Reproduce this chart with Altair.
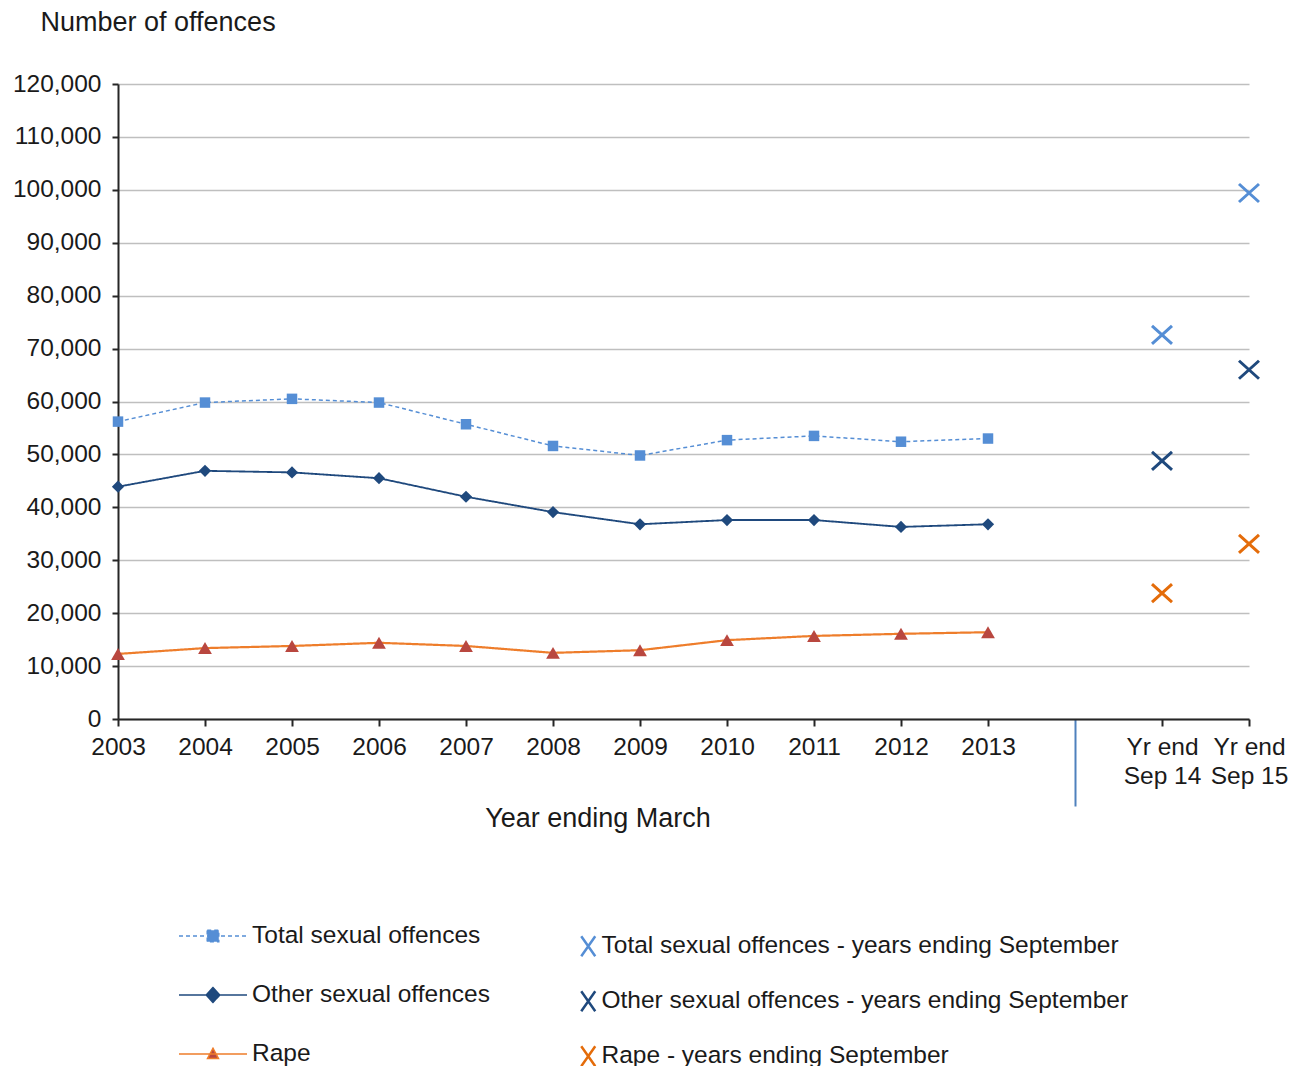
import altair as alt
import pandas as pd

# ---- values ----------------------------------------------------------------
years = ["2003", "2004", "2005", "2006", "2007", "2008", "2009",
         "2010", "2011", "2012", "2013"]
gap_cat = " "
sep_cats = ["Yr end Sep 14", "Yr end Sep 15"]

series_names = ["Total sexual offences", "Other sexual offences", "Rape"]
total = [56200, 59800, 60500, 59800, 55700, 51600, 49800, 52700, 53500, 52400, 53000]
other = [43900, 46900, 46600, 45500, 42000, 39100, 36800, 37600, 37600, 36300, 36800]
rape = [12300, 13400, 13800, 14400, 13800, 12500, 13000, 14900, 15700, 16100, 16400]

sep_names = ["Total sexual offences - years ending September",
             "Other  sexual offences - years ending September",
             "Rape  - years ending  September"]
sep_total = [72600, 99400]
sep_other = [48800, 66000]
sep_rape = [23800, 33100]

y_ticks = list(range(0, 120001, 10000))

# ---- styling ---------------------------------------------------------------
FONT = "Liberation Sans"
TEXT = "#1a1a1a"
line_colors = ["#558ED5", "#1F497D", "#EE7D2B"]
marker_colors = ["#558ED5", "#1F497D", "#B9473F"]
x_colors = ["#558ED5", "#1F497D", "#E46C0A"]
dashes = [[4, 3], [1, 0], [1, 0]]
widths = [1.5, 2.2, 2]
marker_shapes = ["square", "diamond", "triangle-up"]
marker_sizes = [110, 190, 130]
legend_shapes = [
    "M-1,0L1,0M-0.17,-0.17L0.17,-0.17L0.17,0.17L-0.17,0.17Z",
    "M-1,0L1,0M0,-0.22L0.2,0L0,0.22L-0.2,0Z",
    "M-1,0L1,0M0,-0.17L0.16,0.13L-0.16,0.13Z",
]
X_SHAPE = "M-1,-0.9L1,0.9M-1,0.9L1,-0.9"
X_LEGEND_SHAPE = "M-0.7,-1L0.7,1M-0.7,1L0.7,-1"

all_cats = years + [gap_cat] + sep_cats

# ---- tables ----------------------------------------------------------------
lines_df = pd.DataFrame(
    [{"cat": y, "series": s, "value": v}
     for s, vals in zip(series_names, [total, other, rape])
     for y, v in zip(years, vals)]
)
sep_df = pd.DataFrame(
    [{"cat": c, "series": s, "value": v}
     for s, vals in zip(sep_names, [sep_total, sep_other, sep_rape])
     for c, v in zip(sep_cats, vals)]
)

x_enc = alt.X(
    "cat:N",
    sort=all_cats,
    scale=alt.Scale(type="point", domain=all_cats, padding=0),
    axis=alt.Axis(
        title="Year ending March",
        titleFont=FONT, titleFontSize=27, titleFontWeight="normal", titleColor=TEXT,
        titleX=479.5, titleY=99, titleAlign="center", titleBaseline="middle",
        labelExpr="indexof(datum.value, 'Yr end') == 0 ? ['Yr end', replace(datum.value, 'Yr end ', '')] : datum.value",
        labelFont=FONT, labelFontSize=24.5, labelColor=TEXT, labelAngle=0,
        labelPadding=9, labelLineHeight=29, labelOverlap=False, labelFlush=False,
        domainColor="#262626", domainWidth=2,
        tickColor={"condition": {"test": f"datum.value == '{gap_cat}'", "value": "#4F81BD"}, "value": "#262626"},
        tickSize={"condition": {"test": f"datum.value == '{gap_cat}'", "value": 87}, "value": 7},
        tickWidth=2,
        grid=False,
    ),
)

y_enc = alt.Y(
    "value:Q",
    scale=alt.Scale(domain=[0, 120000], nice=False, zero=True),
    axis=alt.Axis(
        values=y_ticks, format=",.0f",
        title="Number of offences",
        titleFont=FONT, titleFontSize=27, titleFontWeight="normal", titleColor=TEXT,
        titleAngle=0, titleX=-78, titleY=-62, titleAlign="left", titleBaseline="middle",
        labelFont=FONT, labelFontSize=24.5, labelColor=TEXT, labelPadding=11,
        labelFlush=False, labelOverlap=False,
        domainColor="#262626", domainWidth=2,
        tickColor="#262626", tickSize=6, tickWidth=2,
        grid=True, gridColor="#BFBFBF", gridWidth=1.5,
    ),
)

base = alt.Chart(lines_df).encode(x=x_enc, y=y_enc)

lines = base.mark_line().encode(
    color=alt.Color("series:N", scale=alt.Scale(domain=series_names, range=line_colors), legend=None),
    strokeDash=alt.StrokeDash("series:N", scale=alt.Scale(domain=series_names, range=dashes), legend=None),
    strokeWidth=alt.StrokeWidth("series:N", scale=alt.Scale(domain=series_names, range=widths), legend=None),
)

points = base.mark_point(filled=True, opacity=1, strokeWidth=0).encode(
    fill=alt.Fill("series:N", scale=alt.Scale(domain=series_names, range=marker_colors), legend=None),
    shape=alt.Shape("series:N", scale=alt.Scale(domain=series_names, range=marker_shapes), legend=None),
    size=alt.Size("series:N", scale=alt.Scale(domain=series_names, range=marker_sizes), legend=None),
)

line_legend = alt.Legend(
    title=None, orient="none", legendX=60, legendY=817, direction="vertical",
    symbolSize=4624, symbolStrokeWidth=1.5, symbolOpacity=1,
    labelFont=FONT, labelFontSize=24.5, labelColor=TEXT, labelOffset=4,
    rowPadding=12, labelLimit=0,
)

legend_layer = alt.Chart(lines_df).transform_filter("false").mark_point(
    filled=True, opacity=1
).encode(
    x=x_enc, y=y_enc,
    fill=alt.Fill("series:N", scale=alt.Scale(domain=series_names, range=marker_colors), legend=line_legend),
    stroke=alt.Stroke("series:N", scale=alt.Scale(domain=series_names, range=line_colors), legend=line_legend),
    strokeDash=alt.StrokeDash("series:N", scale=alt.Scale(domain=series_names, range=dashes), legend=line_legend),
    shape=alt.Shape("series:N", scale=alt.Scale(domain=series_names, range=legend_shapes), legend=line_legend),
)

x_legend = alt.Legend(
    title=None, orient="none", legendX=458, legendY=850, direction="vertical",
    symbolType=X_LEGEND_SHAPE, symbolSize=400, symbolStrokeWidth=2.5,
    labelFont=FONT, labelFontSize=24.5, labelColor=TEXT, labelOffset=1,
    rowPadding=24, labelLimit=0,
)

sep_marks = alt.Chart(sep_df).mark_point(
    shape=X_SHAPE, size=400, strokeWidth=3, filled=False, opacity=1
).encode(
    x=x_enc, y=y_enc,
    stroke=alt.Stroke("series:N", scale=alt.Scale(domain=sep_names, range=x_colors), legend=x_legend),
)

chart = alt.layer(lines, points, legend_layer, sep_marks).resolve_scale(
    color="independent", fill="independent", stroke="independent",
    shape="independent", strokeDash="independent", strokeWidth="independent",
    size="independent",
).properties(
    width=1131, height=635,
    padding={"left": 118, "top": 84, "right": 45, "bottom": 347},
    autosize=alt.AutoSizeParams(type="none"),
    background="white",
).configure_view(stroke=None)

chart.save("out.html", embed_options={"renderer": "svg", "actions": False})
